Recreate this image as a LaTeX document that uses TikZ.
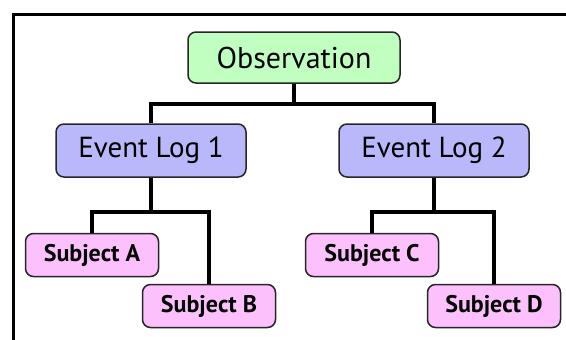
\documentclass[tikz,border=0pt]{standalone}
\usepackage{fontspec}
\setmainfont{PT Sans}
\usetikzlibrary{positioning}
\definecolor{obsgreen}{RGB}{192,255,192}
\definecolor{loglilac}{RGB}{184,184,250}
\definecolor{subpink}{RGB}{252,192,252}
\tikzset{
  box/.style={draw=black!85, line width=1.5pt, rounded corners=8pt, inner sep=0pt, align=center},
  obsbox/.style={box, fill=obsgreen, minimum width=212pt, minimum height=51pt, font=\fontsize{30}{33}\selectfont},
  logbox/.style={box, fill=loglilac, minimum width=190pt, minimum height=53pt, font=\fontsize{29}{32}\selectfont},
  subbox/.style={box, fill=subpink, minimum width=133pt, minimum height=43pt, font=\bfseries\fontsize{24}{27}\selectfont},
  link/.style={line width=3.5pt, black}
}
\begin{document}
\begin{tikzpicture}[x=1pt,y=-1pt]
			\useasboundingbox (0,0) rectangle (566,340);
			%frame
			\draw[line width=3pt] (13,340) -- (13,14) -- (566,14);

			\node[obsbox] (obs) at (294,57.5) {Observation};
			\node[logbox] (logA) at (151,150.5) {Event Log 1};
			\node[logbox] (logB) at (434,150.5) {Event Log 2};

			\node[subbox] (subA) at (92,255) {Subject A};
			\node[subbox] (subB) at (209,306) {Subject B};
			\node[subbox] (subC) at (372,255) {Subject C};
			\node[subbox] (subD) at (494,306) {Subject D};

			\coordinate (forkTop) at (294,104);
			\coordinate (forkA) at (151,212);
			\coordinate (forkB) at (434,212);

			\draw[link] (obs.south) -- (forkTop);
			\draw[link] (logA.north) |- (forkTop) -| (logB.north);

			\draw[link] (logA.south) -- (forkA);
			\draw[link] (subA.north) |- (forkA) -| (subB.north);

			\draw[link] (logB.south) -- (forkB);
			\draw[link] (subC.north) |- (forkB) -| (subD.north);
\end{tikzpicture}
\end{document}
